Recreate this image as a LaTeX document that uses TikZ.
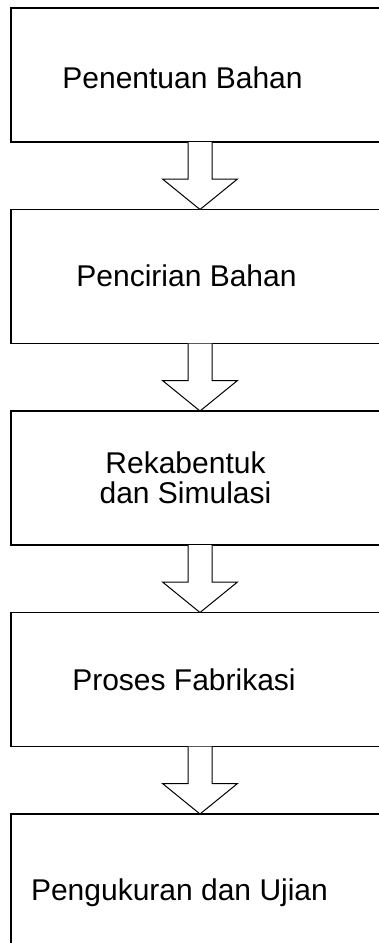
\documentclass[tikz,border=0pt]{standalone}
\usepackage{fontspec}
\setmainfont{Liberation Sans}
\usepackage{tikz}
\usetikzlibrary{positioning, calc}

% anak panah blok dari kotak #1 ke kotak #2
\newcommand{\panahblok}[2]{%
  \draw[panah] ($(#1.south)+(-12,0)$) -- ($(#1.south)+(-12,37)$) -- ($(#1.south)+(-37.5,37)$)
    -- (#2.north) -- ($(#1.south)+(37.5,37)$) -- ($(#1.south)+(12,37)$) -- ($(#1.south)+(12,0)$);}

\begin{document}
\begin{tikzpicture}[x=1pt, y=-1pt,
    kotak/.style={draw, line width=1.2pt, minimum width=378pt, minimum height=134pt, inner sep=0pt, outer sep=0pt},
    teks/.style={font=\fontsize{30}{30}\selectfont, align=center, inner sep=0pt},
    panah/.style={draw, line width=1pt, fill=white, line join=miter}]
  \useasboundingbox (0,0) rectangle (379,943);
  \clip (0,0) rectangle (379,943);
  \node[kotak] (pb) at (200,75) {};
  \node[kotak, below=67.5pt of pb] (cb) {};
  \node[kotak, below=67.5pt of cb] (rs) {};
  \node[kotak, below=67.5pt of rs] (pf) {};
  \node[kotak, below=67.5pt of pf] (pu) {};
  \node[teks, anchor=base] (tpb) at (182.5,88) {Penentuan Bahan};
  \node[teks, anchor=base] (tcb) at (186.5,286.5) {Pencirian Bahan};
  \node[teks] (trs) at (185.5,477.5) {Rekabentuk\\dan Simulasi};
  \node[teks, anchor=base] (tpf) at (184,690) {Proses Fabrikasi};
  \node[teks, anchor=base] (tpu) at (179.5,900) {Pengukuran dan Ujian};
  \panahblok{pb}{cb}
  \panahblok{cb}{rs}
  \panahblok{rs}{pf}
  \panahblok{pf}{pu}
\end{tikzpicture}
\end{document}
